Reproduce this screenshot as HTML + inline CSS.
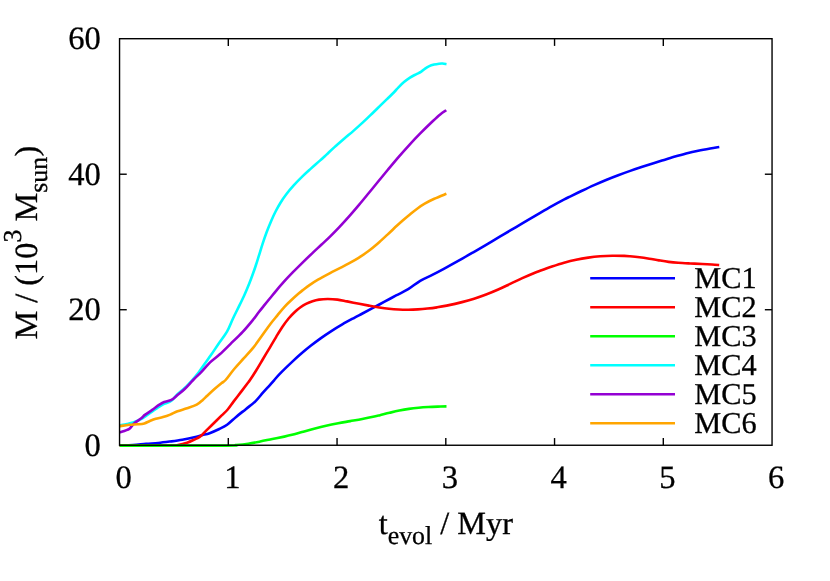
<!DOCTYPE html>
<html><head><meta charset="utf-8"><title>chart</title>
<style>
html,body{margin:0;padding:0;background:#fff;}
body{width:830px;height:581px;overflow:hidden;}
svg{display:block;will-change:transform;}
text{font-family:"Liberation Serif",serif;fill:#000;stroke:#000;stroke-width:0.3px;}
</style></head><body>
<svg width="830" height="581" viewBox="0 0 830 581" text-rendering="geometricPrecision">
<rect x="0" y="0" width="830" height="581" fill="#ffffff"/>

<g fill="none" stroke-width="2.6" stroke-linejoin="round" stroke-linecap="butt">
<path d="M119.70,445.50 C121.92,445.44 128.60,445.40 133.00,445.13 C137.40,444.85 141.90,444.21 146.10,443.85 C150.30,443.49 154.18,443.37 158.20,442.97 C162.22,442.58 166.18,442.04 170.20,441.50 C174.22,440.95 178.28,440.41 182.30,439.72 C186.32,439.03 191.02,438.10 194.30,437.34 C197.58,436.58 199.45,435.85 202.00,435.15 C204.55,434.46 206.72,434.20 209.60,433.17 C212.48,432.14 216.38,430.38 219.30,428.99 C222.22,427.59 224.30,426.81 227.10,424.80 C229.90,422.79 232.98,419.53 236.10,416.92 C239.22,414.31 242.58,411.73 245.80,409.14 C249.02,406.54 252.58,404.05 255.40,401.35 C258.22,398.66 260.28,395.68 262.70,392.97 C265.12,390.26 268.00,387.19 269.90,385.08 C271.80,382.97 272.42,382.20 274.10,380.29 C275.78,378.38 276.87,376.80 280.00,373.60 C283.13,370.40 289.35,364.45 292.90,361.11 C296.45,357.76 298.28,356.12 301.30,353.53 C304.32,350.94 307.78,348.11 311.00,345.58 C314.22,343.05 317.40,340.64 320.60,338.34 C323.80,336.05 326.58,334.11 330.20,331.79 C333.82,329.46 338.28,326.73 342.30,324.39 C346.32,322.06 351.02,319.55 354.30,317.77 C357.58,316.00 359.05,315.31 362.00,313.76 C364.95,312.21 368.32,310.45 372.00,308.47 C375.68,306.50 380.08,304.07 384.10,301.90 C388.12,299.73 392.08,297.59 396.10,295.47 C400.12,293.36 404.18,291.64 408.20,289.20 C412.22,286.76 416.18,283.20 420.20,280.81 C424.22,278.43 428.28,276.93 432.30,274.89 C436.32,272.85 439.68,271.08 444.30,268.59 C448.92,266.10 455.03,262.75 460.00,259.96 C464.97,257.16 469.75,254.36 474.10,251.83 C478.45,249.29 483.12,246.52 486.10,244.76 C489.08,243.00 489.00,243.04 492.00,241.27 C495.00,239.50 500.08,236.50 504.10,234.13 C508.12,231.76 512.08,229.43 516.10,227.07 C520.12,224.70 524.18,222.30 528.20,219.94 C532.22,217.57 536.18,215.21 540.20,212.88 C544.22,210.55 548.28,208.20 552.30,205.96 C556.32,203.72 561.35,201.02 564.30,199.46 C567.25,197.89 567.05,198.02 570.00,196.57 C572.95,195.12 577.98,192.67 582.00,190.76 C586.02,188.85 590.08,186.93 594.10,185.13 C598.12,183.33 602.08,181.62 606.10,179.97 C610.12,178.32 614.18,176.75 618.20,175.24 C622.22,173.72 626.18,172.29 630.20,170.88 C634.22,169.47 638.28,168.11 642.30,166.79 C646.32,165.47 651.02,164.00 654.30,162.96 C657.58,161.92 658.70,161.58 662.00,160.56 C665.30,159.54 670.08,158.02 674.10,156.84 C678.12,155.66 682.08,154.51 686.10,153.48 C690.12,152.45 694.18,151.50 698.20,150.66 C702.22,149.82 706.68,149.04 710.20,148.43 C713.72,147.82 717.78,147.24 719.30,147.00" stroke="#0000ff"/>
<path d="M119.70,445.60 C128.08,445.60 160.28,445.70 170.00,445.60 C179.72,445.50 175.15,445.48 178.00,445.00 C180.85,444.52 184.38,443.60 187.10,442.70 C189.82,441.80 192.15,440.62 194.30,439.60 C196.45,438.58 197.85,438.27 200.00,436.60 C202.15,434.93 204.78,431.95 207.20,429.60 C209.62,427.25 212.08,424.87 214.50,422.50 C216.92,420.13 219.50,417.57 221.70,415.40 C223.90,413.23 225.70,411.83 227.70,409.50 C229.70,407.17 231.48,404.33 233.70,401.40 C235.92,398.47 238.78,394.80 241.00,391.90 C243.22,389.00 245.50,385.98 247.00,384.00 C248.50,382.02 248.45,382.30 250.00,380.00 C251.55,377.70 254.13,373.70 256.30,370.20 C258.47,366.70 260.72,362.82 263.00,359.00 C265.28,355.18 267.80,351.00 270.00,347.30 C272.20,343.60 274.15,340.18 276.20,336.80 C278.25,333.42 280.23,330.05 282.30,327.00 C284.37,323.95 286.52,321.00 288.60,318.50 C290.68,316.00 292.82,313.87 294.80,312.00 C296.78,310.13 298.63,308.65 300.50,307.30 C302.37,305.95 304.00,304.92 306.00,303.90 C308.00,302.88 310.33,301.92 312.50,301.20 C314.67,300.48 316.45,299.97 319.00,299.60 C321.55,299.23 324.72,299.00 327.80,299.00 C330.88,299.00 334.28,299.20 337.50,299.60 C340.72,300.00 343.48,300.71 347.10,301.40 C350.72,302.10 355.45,303.04 359.20,303.77 C362.95,304.49 366.25,305.15 369.60,305.76 C372.95,306.37 376.08,306.93 379.30,307.42 C382.52,307.91 385.68,308.36 388.90,308.71 C392.12,309.06 395.38,309.33 398.60,309.50 C401.82,309.67 405.00,309.73 408.20,309.71 C411.40,309.69 414.58,309.58 417.80,309.39 C421.02,309.20 424.28,308.93 427.50,308.58 C430.72,308.24 433.90,307.83 437.10,307.34 C440.30,306.84 442.55,306.49 446.70,305.62 C450.85,304.75 457.43,303.29 462.00,302.13 C466.57,300.97 470.08,299.96 474.10,298.69 C478.12,297.41 482.08,296.03 486.10,294.50 C490.12,292.96 494.18,291.25 498.20,289.48 C502.22,287.71 506.18,285.76 510.20,283.88 C514.22,282.00 518.28,280.00 522.30,278.18 C526.32,276.37 531.35,274.21 534.30,272.98 C537.25,271.74 537.05,271.84 540.00,270.76 C542.95,269.68 547.98,267.84 552.00,266.49 C556.02,265.13 560.08,263.78 564.10,262.64 C568.12,261.51 572.08,260.52 576.10,259.68 C580.12,258.84 584.18,258.17 588.20,257.61 C592.22,257.05 596.18,256.62 600.20,256.32 C604.22,256.01 608.28,255.84 612.30,255.77 C616.32,255.71 621.35,255.84 624.30,255.92 C627.25,256.01 627.45,256.04 630.00,256.27 C632.55,256.49 636.38,256.86 639.60,257.27 C642.82,257.67 646.08,258.19 649.30,258.71 C652.52,259.22 655.68,259.85 658.90,260.37 C662.12,260.89 665.38,261.44 668.60,261.84 C671.82,262.24 674.60,262.51 678.20,262.78 C681.80,263.05 686.18,263.25 690.20,263.45 C694.22,263.65 698.68,263.79 702.30,263.97 C705.92,264.15 709.08,264.34 711.90,264.53 C714.72,264.72 717.98,265.00 719.20,265.10" stroke="#ff0000"/>
<path d="M119.70,445.60 C137.42,445.60 206.62,445.70 226.00,445.60 C245.38,445.50 232.30,445.32 236.00,445.00 C239.70,444.68 244.17,444.26 248.20,443.68 C252.23,443.10 256.18,442.31 260.20,441.52 C264.22,440.74 268.28,439.79 272.30,438.97 C276.32,438.15 281.02,437.30 284.30,436.62 C287.58,435.93 289.05,435.61 292.00,434.85 C294.95,434.08 298.32,433.05 302.00,432.02 C305.68,431.00 310.08,429.74 314.10,428.69 C318.12,427.64 322.08,426.63 326.10,425.72 C330.12,424.82 334.18,424.01 338.20,423.24 C342.22,422.48 346.18,421.84 350.20,421.13 C354.22,420.42 358.28,419.74 362.30,418.97 C366.32,418.21 371.35,417.17 374.30,416.54 C377.25,415.91 377.45,415.83 380.00,415.21 C382.55,414.58 386.38,413.57 389.60,412.80 C392.82,412.03 396.08,411.24 399.30,410.59 C402.52,409.93 405.68,409.36 408.90,408.88 C412.12,408.40 415.38,408.03 418.60,407.72 C421.82,407.41 425.00,407.20 428.20,407.02 C431.40,406.83 434.75,406.72 437.80,406.62 C440.85,406.52 445.05,406.44 446.50,406.40" stroke="#00ff00"/>
<path d="M119.70,425.30 C120.92,425.08 124.78,424.47 127.00,424.00 C129.22,423.53 130.67,423.31 133.00,422.50 C135.33,421.69 139.00,420.10 141.00,419.12 C143.00,418.14 143.17,417.85 145.00,416.60 C146.83,415.35 149.60,413.27 152.00,411.60 C154.40,409.93 157.37,407.88 159.40,406.60 C161.43,405.32 162.20,404.88 164.20,403.90 C166.20,402.92 169.18,402.35 171.40,400.73 C173.62,399.12 175.28,396.32 177.50,394.20 C179.72,392.08 182.23,390.37 184.70,388.00 C187.17,385.63 190.08,382.45 192.30,380.00 C194.52,377.55 196.13,375.73 198.00,373.30 C199.87,370.87 201.28,368.52 203.50,365.40 C205.72,362.28 208.78,358.22 211.30,354.60 C213.82,350.98 215.98,347.52 218.60,343.70 C221.22,339.88 224.60,335.90 227.00,331.70 C229.40,327.50 230.95,322.84 233.00,318.50 C235.05,314.16 237.45,309.49 239.30,305.68 C241.15,301.88 242.83,298.41 244.10,295.68 C245.37,292.96 245.73,292.16 246.90,289.34 C248.07,286.52 249.70,282.48 251.10,278.76 C252.50,275.03 254.00,270.83 255.30,266.98 C256.60,263.14 257.70,259.50 258.90,255.69 C260.10,251.88 261.20,248.07 262.50,244.13 C263.80,240.19 265.20,236.03 266.70,232.05 C268.20,228.06 270.00,223.67 271.50,220.21 C273.00,216.74 274.20,214.17 275.70,211.25 C277.20,208.33 278.70,205.57 280.50,202.69 C282.30,199.82 284.30,196.90 286.50,194.03 C288.70,191.15 291.08,188.31 293.70,185.42 C296.32,182.52 299.38,179.41 302.20,176.66 C305.02,173.91 307.60,171.62 310.60,168.91 C313.60,166.20 317.55,162.79 320.20,160.40 C322.85,158.02 324.12,156.80 326.50,154.59 C328.88,152.38 331.57,149.79 334.50,147.15 C337.43,144.51 340.90,141.51 344.10,138.76 C347.30,136.00 350.48,133.42 353.70,130.61 C356.92,127.80 360.18,124.90 363.40,121.91 C366.62,118.93 370.23,115.36 373.00,112.69 C375.77,110.02 377.63,108.18 380.00,105.88 C382.37,103.59 384.78,101.27 387.20,98.91 C389.62,96.55 392.70,93.57 394.50,91.72 C396.30,89.87 396.42,89.40 398.00,87.80 C399.58,86.20 402.00,83.80 404.00,82.10 C406.00,80.40 407.98,78.90 410.00,77.60 C412.02,76.30 414.28,75.25 416.10,74.30 C417.92,73.35 419.40,72.85 420.90,71.90 C422.40,70.95 423.70,69.57 425.10,68.60 C426.50,67.63 427.80,66.77 429.30,66.10 C430.80,65.43 432.48,65.00 434.10,64.60 C435.72,64.20 437.58,63.88 439.00,63.70 C440.42,63.53 441.35,63.47 442.60,63.55 C443.85,63.63 445.85,64.09 446.50,64.20" stroke="#00ffff"/>
<path d="M119.70,432.30 C121.30,431.72 126.90,430.28 129.30,428.80 C131.70,427.32 132.10,425.15 134.10,423.40 C136.10,421.65 139.50,419.72 141.30,418.30 C143.10,416.88 143.08,416.30 144.90,414.90 C146.72,413.50 149.78,411.60 152.20,409.90 C154.62,408.20 157.40,406.02 159.40,404.70 C161.40,403.38 162.20,402.80 164.20,402.00 C166.20,401.20 169.18,401.05 171.40,399.90 C173.62,398.75 175.28,396.92 177.50,395.10 C179.72,393.28 182.08,391.52 184.70,389.00 C187.32,386.48 190.37,382.89 193.20,380.00 C196.03,377.11 198.88,374.58 201.70,371.63 C204.52,368.69 207.08,365.21 210.10,362.33 C213.12,359.45 216.38,357.42 219.80,354.34 C223.22,351.26 226.78,347.61 230.60,343.86 C234.42,340.11 239.00,335.82 242.70,331.86 C246.40,327.90 250.17,323.31 252.80,320.09 C255.43,316.86 256.53,315.03 258.50,312.50 C260.47,309.97 262.68,307.30 264.60,304.93 C266.52,302.55 268.02,300.67 270.00,298.23 C271.98,295.80 274.13,293.10 276.50,290.29 C278.87,287.49 281.50,284.39 284.20,281.42 C286.90,278.44 289.68,275.54 292.70,272.45 C295.72,269.36 299.10,266.02 302.30,262.88 C305.50,259.74 308.68,256.65 311.90,253.60 C315.12,250.54 318.58,247.37 321.60,244.53 C324.62,241.69 327.05,239.48 330.00,236.57 C332.95,233.66 335.97,230.63 339.30,227.09 C342.63,223.56 346.72,219.06 350.00,215.36 C353.28,211.65 355.87,208.60 359.00,204.87 C362.13,201.15 365.53,196.98 368.80,193.00 C372.07,189.03 375.46,184.86 378.60,181.03 C381.74,177.20 384.33,174.02 387.65,170.04 C390.97,166.06 394.91,161.32 398.50,157.16 C402.09,152.99 405.62,148.98 409.20,145.06 C412.78,141.14 416.13,137.59 420.00,133.66 C423.87,129.73 429.03,124.71 432.40,121.50 C435.77,118.29 437.88,116.26 440.20,114.39 C442.52,112.51 445.28,110.94 446.30,110.25" stroke="#9400d3"/>
<path d="M119.70,426.20 C121.30,425.97 126.30,425.12 129.30,424.80 C132.30,424.48 135.20,424.53 137.70,424.30 C140.20,424.07 142.28,423.95 144.30,423.40 C146.32,422.85 147.88,421.77 149.80,421.00 C151.72,420.23 153.60,419.45 155.80,418.80 C158.00,418.15 160.60,417.80 163.00,417.10 C165.40,416.40 167.78,415.57 170.20,414.60 C172.62,413.63 174.68,412.35 177.50,411.30 C180.32,410.25 183.90,409.40 187.10,408.30 C190.30,407.20 194.08,406.10 196.70,404.70 C199.32,403.30 201.05,401.40 202.80,399.90 C204.55,398.40 205.25,397.52 207.20,395.70 C209.15,393.88 212.08,391.12 214.50,389.00 C216.92,386.88 219.85,384.50 221.70,383.00 C223.55,381.50 223.52,382.33 225.60,380.00 C227.68,377.67 231.15,372.63 234.20,369.00 C237.25,365.37 240.68,361.80 243.90,358.19 C247.12,354.59 250.50,351.11 253.50,347.38 C256.50,343.65 259.08,339.75 261.90,335.84 C264.72,331.94 267.85,327.34 270.40,323.97 C272.95,320.60 274.85,318.47 277.20,315.61 C279.55,312.75 282.08,309.43 284.50,306.79 C286.92,304.15 289.30,302.04 291.70,299.80 C294.10,297.55 297.00,294.98 298.90,293.32 C300.80,291.67 301.33,291.24 303.10,289.87 C304.87,288.51 307.02,286.81 309.50,285.11 C311.98,283.41 314.65,281.64 318.00,279.68 C321.35,277.71 326.05,275.22 329.60,273.34 C333.15,271.46 336.08,270.05 339.30,268.40 C342.52,266.74 345.68,265.17 348.90,263.41 C352.12,261.65 355.38,259.85 358.60,257.83 C361.82,255.81 365.00,253.69 368.20,251.30 C371.40,248.91 374.58,246.29 377.80,243.50 C381.02,240.72 384.28,237.59 387.50,234.59 C390.72,231.60 394.52,227.93 397.10,225.54 C399.68,223.15 400.82,222.15 403.00,220.25 C405.18,218.36 407.78,216.15 410.20,214.18 C412.62,212.21 415.08,210.19 417.50,208.43 C419.92,206.68 421.90,205.28 424.70,203.67 C427.50,202.06 430.68,200.43 434.30,198.79 C437.92,197.14 444.38,194.63 446.40,193.80" stroke="#ffa500"/>
</g>
<g stroke-width="2.5" fill="none">
<line x1="590.2" y1="278.3" x2="675.0" y2="278.3" stroke="#0000ff"/>
<line x1="590.2" y1="307.3" x2="675.0" y2="307.3" stroke="#ff0000"/>
<line x1="590.2" y1="336.3" x2="675.0" y2="336.3" stroke="#00ff00"/>
<line x1="590.2" y1="365.3" x2="675.0" y2="365.3" stroke="#00ffff"/>
<line x1="590.2" y1="394.3" x2="675.0" y2="394.3" stroke="#9400d3"/>
<line x1="590.2" y1="423.3" x2="675.0" y2="423.3" stroke="#ffa500"/>
</g>
<g font-size="30.3">
<text x="694.3" y="288.2">MC1</text>
<text x="694.3" y="317.2">MC2</text>
<text x="694.3" y="346.2">MC3</text>
<text x="694.3" y="375.2">MC4</text>
<text x="694.3" y="404.2">MC5</text>
<text x="694.3" y="433.2">MC6</text>
</g>
<g stroke="#000" stroke-width="1.4" fill="none" stroke-linecap="butt">
<rect x="119.55" y="38.7" width="652.50" height="406.55"/>
<line x1="228.30" y1="445.25" x2="228.30" y2="438.05"/>
<line x1="228.30" y1="38.7" x2="228.30" y2="45.900000000000006"/>
<line x1="337.05" y1="445.25" x2="337.05" y2="438.05"/>
<line x1="337.05" y1="38.7" x2="337.05" y2="45.900000000000006"/>
<line x1="445.80" y1="445.25" x2="445.80" y2="438.05"/>
<line x1="445.80" y1="38.7" x2="445.80" y2="45.900000000000006"/>
<line x1="554.55" y1="445.25" x2="554.55" y2="438.05"/>
<line x1="554.55" y1="38.7" x2="554.55" y2="45.900000000000006"/>
<line x1="663.30" y1="445.25" x2="663.30" y2="438.05"/>
<line x1="663.30" y1="38.7" x2="663.30" y2="45.900000000000006"/>
<line x1="119.55" y1="309.73" x2="126.75" y2="309.73"/>
<line x1="772.05" y1="309.73" x2="764.8499999999999" y2="309.73"/>
<line x1="119.55" y1="174.22" x2="126.75" y2="174.22"/>
<line x1="772.05" y1="174.22" x2="764.8499999999999" y2="174.22"/>
</g>
<g font-size="32.6">
<text x="123.65" y="488.3" text-anchor="middle">0</text>
<text x="232.40" y="488.3" text-anchor="middle">1</text>
<text x="341.15" y="488.3" text-anchor="middle">2</text>
<text x="449.90" y="488.3" text-anchor="middle">3</text>
<text x="558.65" y="488.3" text-anchor="middle">4</text>
<text x="667.40" y="488.3" text-anchor="middle">5</text>
<text x="776.15" y="488.3" text-anchor="middle">6</text>
<text x="100.8" y="455.85" text-anchor="end">0</text>
<text x="100.8" y="320.33" text-anchor="end">20</text>
<text x="100.8" y="184.82" text-anchor="end">40</text>
<text x="100.8" y="49.30" text-anchor="end">60</text>
</g>
<g font-size="32.3">
<text x="378.7" y="533.8">t<tspan font-size="25.84" dy="9.7">evol</tspan><tspan dy="-9.7"> / Myr</tspan></text>
<text transform="translate(37.3,339.5) rotate(-90)">M / (10<tspan font-size="25.84" dy="-16.8">3</tspan><tspan dy="16.8" dx="0.2"> M</tspan><tspan font-size="25.84" dy="9.7">sun</tspan><tspan dy="-9.7" dx="0.2">)</tspan></text>
</g>
</svg></body></html>
